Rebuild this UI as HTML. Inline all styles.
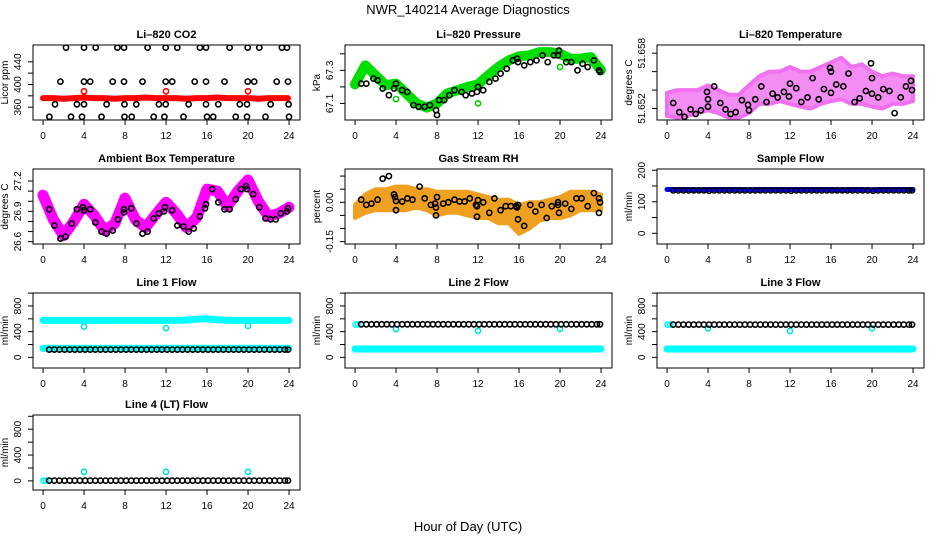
<!DOCTYPE html>
<html><head><meta charset="utf-8"><title>NWR_140214 Average Diagnostics</title>
<style>
html,body{margin:0;padding:0;background:#fff;}
svg{display:block;font-family:"Liberation Sans",Arial,sans-serif;}
</style></head>
<body>
<svg id="chart" width="936" height="540" viewBox="0 0 936 540">
<text x="468" y="14" text-anchor="middle" font-size="13">NWR_140214  Average Diagnostics</text>
<text x="468" y="531" text-anchor="middle" font-size="13">Hour of Day (UTC)</text>
</svg>
<script>
// ---------- shared data ----------
const hours = [0,1,2,3,4,5,6,7,8,9,10,11,12,13,14,15,16,17,18,19,20,21,22,23,24];
const xTicks = [0,4,8,12,16,20,24];
const flowT = [0.6,1.1,1.6,2.1,2.6,3.1,3.6,4.1,4.6,5.1,5.6,6.1,6.6,7.1,7.6,8.1,8.6,9.1,9.6,10.1,10.6,11.1,11.6,12.1,12.6,13.1,13.6,14.1,14.6,15.1,15.6,16.1,16.6,17.1,17.6,18.1,18.6,19.1,19.6,20.1,20.6,21.1,21.6,22.1,22.6,23.1,23.6,23.9];
const outT = [4,12,20];

// CO2
const co2Red = [376,376,375,376,377,376,376,375,376,376,377,376,376,376,375,376,376,377,376,376,376,375,376,376,376];
const co2RedOut = [388,388,388];
const co2BlackT = [2.24,4.0,5.14,7.25,7.9,10.2,11.97,13.1,15.3,15.9,18.2,19.97,21.1,23.3,23.8, 1.69,4.0,4.6,6.8,7.9,9.7,11.97,12.6,14.8,15.9,17.7,19.97,20.6,22.8,23.9, 1.17,3.3,4.0,6.2,7.95,9.1,11.3,11.97,14.2,15.9,17.1,19.2,19.9,22.2,23.96, 0.62,2.73,3.8,5.7,7.95,8.65,10.8,11.84,13.7,16.0,16.6,18.8,19.9,21.7,24.0];
const co2BlackV = [465,465,465,465,465,465,465,465,465,465,465,465,465,465,465, 405,405,405,405,405,405,405,405,405,405,405,405,405,405,405, 365,365,365,365,365,365,365,365,365,365,365,365,365,365,365, 343,343,343,343,343,343,343,343,343,343,343,343,343,343,343];

// Pressure
const presGreen = [67.215,67.33,67.27,67.21,67.22,67.16,67.10,67.075,67.10,67.16,67.18,67.20,67.215,67.27,67.32,67.36,67.385,67.39,67.41,67.41,67.40,67.37,67.37,67.38,67.30];
const presGreenOut = [67.126,67.10,67.32];
const presBlackT = [0.6,1.1,1.8,2.2,2.7,3.3,3.8,4.0,4.6,5.1,5.7,6.2,6.8,7.3,7.9,8.0,8.2,8.7,9.2,9.7,10.4,10.8,11.4,11.9,12.0,12.5,13.1,13.7,14.2,14.8,15.4,15.8,15.9,16.5,17.1,17.7,18.3,18.8,19.4,19.8,19.9,20.6,21.1,21.7,22.2,22.7,23.3,23.8,23.9];
const presBlackV = [67.22,67.22,67.25,67.24,67.19,67.15,67.19,67.22,67.18,67.17,67.09,67.08,67.08,67.09,67.06,67.03,67.12,67.12,67.15,67.18,67.17,67.15,67.16,67.17,67.20,67.18,67.23,67.25,67.28,67.31,67.36,67.37,67.35,67.33,67.35,67.36,67.39,67.35,67.39,67.39,67.42,67.35,67.35,67.30,67.34,67.32,67.36,67.30,67.29];

// Li-820 temperature
const tempHi = [51.6537,51.6540,51.6540,51.6540,51.6545,51.6540,51.6535,51.6535,51.6545,51.6555,51.6560,51.6560,51.6565,51.6560,51.6560,51.6565,51.6570,51.6575,51.6565,51.6568,51.6560,51.6555,51.6558,51.6555,51.6555];
const tempLo = [51.6512,51.6510,51.6512,51.6515,51.6518,51.6515,51.6510,51.6510,51.6515,51.6525,51.6525,51.6528,51.6525,51.6522,51.6520,51.6525,51.6528,51.6530,51.6525,51.6525,51.6522,51.6520,51.6525,51.6525,51.6528];
const tempBlackT = [0.6,1.2,1.7,2.3,2.8,3.3,3.9,4.0,4.0,4.6,5.2,5.7,6.2,6.7,7.3,7.9,8.0,8.6,9.2,9.7,10.3,10.8,11.4,11.9,12.0,12.6,13.1,13.7,14.2,14.8,15.3,15.9,16.0,16.0,16.5,17.2,17.7,18.3,18.8,19.4,19.9,20.0,20.0,20.6,21.1,21.7,22.2,22.8,23.3,23.8,23.9];
const tempBlackV = [51.6526,51.6516,51.6511,51.6519,51.6514,51.6518,51.6538,51.6530,51.6522,51.6544,51.6526,51.6519,51.6514,51.6516,51.6529,51.6524,51.6518,51.6530,51.6544,51.6527,51.6536,51.6532,51.6538,51.6533,51.6547,51.6542,51.6527,51.6532,51.6553,51.6530,51.6541,51.6564,51.6560,51.6537,51.6546,51.6544,51.6558,51.6527,51.6531,51.6539,51.6569,51.6553,51.6536,51.6532,51.6541,51.6539,51.6515,51.6532,51.6544,51.6550,51.6540];

// Ambient box temperature
const ambMag = [27.06,26.82,26.66,26.80,26.97,26.86,26.71,26.78,27.03,26.82,26.74,26.87,26.99,26.88,26.74,26.84,27.12,27.10,26.95,27.10,27.21,27.00,26.85,26.88,26.94];
const ambBlackT = [0.6,1.1,1.7,2.2,2.8,3.3,3.9,4.0,4.6,5.1,5.7,6.2,6.8,7.3,7.9,7.9,8.6,9.1,9.7,10.2,10.8,11.3,11.8,11.9,12.6,13.1,13.7,14.2,14.7,15.3,15.8,15.9,16.5,17.1,17.7,18.2,18.8,19.3,19.8,19.9,20.5,21.1,21.7,22.2,22.7,23.2,23.8,23.9];
const ambBlackV = [26.92,26.76,26.63,26.65,26.78,26.92,26.94,26.91,26.92,26.79,26.70,26.68,26.71,26.82,26.92,26.89,26.93,26.78,26.68,26.70,26.83,26.88,26.90,26.94,26.91,26.76,26.75,26.70,26.73,26.85,26.93,26.97,27.12,26.99,26.92,26.92,27.02,27.12,27.15,27.12,27.07,26.94,26.83,26.82,26.82,26.88,26.90,26.93];

// Gas stream RH
const rhHi = [-0.01,0.03,0.05,0.05,0.06,0.06,0.05,0.05,0.04,0.04,0.04,0.04,0.03,0.02,0.01,0.01,-0.01,0.0,0.0,0.01,0.02,0.04,0.04,0.04,0.03];
const rhLo = [-0.06,-0.04,-0.03,-0.03,-0.03,-0.03,-0.02,-0.03,-0.05,-0.04,-0.04,-0.05,-0.06,-0.06,-0.08,-0.08,-0.12,-0.10,-0.07,-0.06,-0.06,-0.05,-0.03,-0.03,-0.03];
const rhBlackT = [0.6,1.1,1.6,2.2,2.7,3.3,3.8,3.9,4.0,4.0,4.6,5.1,5.6,6.3,6.8,7.4,7.8,7.9,7.9,8.0,8.6,9.1,9.7,10.2,10.7,11.2,11.8,11.9,11.9,12.0,12.5,13.1,13.6,14.2,14.7,15.2,15.7,15.8,15.9,15.9,16.5,17.1,17.6,18.2,18.7,19.2,19.8,19.8,19.9,20.5,21.1,21.6,22.1,22.7,23.3,23.8,23.8,23.9];
const rhBlackV = [0.01,-0.01,-0.005,0.01,0.09,0.10,0.03,0.02,-0.03,0.005,0.003,0.015,0.01,0.06,0.015,-0.01,-0.005,-0.02,-0.05,0.02,-0.005,0.0,0.01,0.003,0.003,0.015,-0.01,-0.015,-0.055,0.008,0.0,-0.04,0.015,-0.03,-0.015,-0.015,-0.015,-0.02,-0.01,-0.065,-0.09,-0.01,-0.035,-0.01,-0.06,-0.015,0.0,-0.01,-0.04,-0.005,-0.025,0.015,0.015,-0.015,0.035,0.015,-0.04,0.0];

// Sample flow
const sampleBlue = [139,139,139,138,139,139,139,139,138,139,139,139,139,139,139,139,139,138,139,139,138,139,139,139,139];
const sampleBlack = [136,136,136,136,136,136,136,135,136,136,136,136,136,136,136,136,136,136,136,136,136,136,136,135,136,136,136,136,136,136,136,136,136,136,136,136,136,136,136,135,136,136,136,136,136,136,136,136];

// Line flows
const line1Hi = [575,575,575,575,575,575,575,575,575,575,575,575,575,575,580,595,600,585,578,575,575,575,575,575,575];
const line1Lo = [140,140,140,140,140,140,140,140,140,140,140,140,140,140,140,140,140,140,140,140,140,140,140,140,140];
const line1Out = [480,455,490];
const line1Black = [120,120,120,120,120,120,120,120,120,120,120,120,120,120,120,120,120,120,120,120,120,120,120,120,120,120,120,120,120,120,120,120,120,120,120,120,120,120,120,120,120,120,120,120,120,120,120,120];
const line2Lo = [130,130,130,130,130,130,130,130,130,130,130,130,130,130,130,130,130,130,130,130,130,130,130,130,130];
const line2Out = [440,415,445];
const line2Black = [515,515,515,515,515,515,515,515,515,515,515,515,515,515,515,515,515,515,515,515,515,515,515,515,515,515,515,515,515,515,515,515,515,515,515,515,515,515,515,515,515,515,515,515,515,515,515,515];
const line3Lo = [130,130,130,130,130,130,130,130,130,130,130,130,130,130,130,130,130,130,130,130,130,130,130,130,130];
const line3Out = [450,410,450];
const line3Black = [510,510,510,510,510,510,510,510,510,510,510,510,510,510,510,510,510,510,510,510,510,510,510,510,510,510,510,510,510,510,510,510,510,510,510,510,510,510,510,510,510,510,510,510,510,510,510,510];
const startT = [0.05,0.3];
const line2Start = [510,515];
const line3Start = [510,512];
const line4Start = [5,5];
const line4Out = [140,140,140];
const line4Black = [5,5,5,5,5,5,5,5,5,5,5,5,5,5,5,5,5,5,5,5,5,5,5,5,5,5,5,5,5,5,5,5,5,5,5,5,5,5,5,5,5,5,5,5,5,5,5,5];

// ---------- drawing ----------
const NS = "http://www.w3.org/2000/svg";
const svg = document.getElementById("chart");
const COLS = [33,345,657], ROWS = [45,169,293,415], W = 267, H = 75;
const X0 = -0.98, X1 = 25.07;

function mk(tag, attrs, parent){
  const e = document.createElementNS(NS, tag);
  for (const k in attrs) e.setAttribute(k, attrs[k]);
  parent.appendChild(e);
  return e;
}

function panel(name, col, row, ymin, ymax, yTicks, yLabels, title, ylab){
  const left = COLS[col], top = ROWS[row];
  const g = mk("g", {}, svg);
  
  
  const sx = h => left + (h - X0) / (X1 - X0) * W;
  const sy = v => top + H - (v - ymin) / (ymax - ymin) * H;
  const t = mk("text", {x: left + W/2, y: top - 7, "text-anchor": "middle", "font-size": 11, "font-weight": "bold"}, g);
  t.textContent = title;
  
  
  const yt = mk("text", {x: 0, y: 0, "text-anchor": "middle", "font-size": 10, transform: `translate(${left-25},${top+H/2}) rotate(-90)`}, g);
  yt.textContent = ylab;
  
  
  const plot = mk("g", {}, g);
  
  
  const clipId = "clip" + col + row;
  const cp = mk("clipPath", {id: clipId}, g);
  mk("rect", {x: left, y: top, width: W, height: H}, cp);
  plot.setAttribute("clip-path", `url(#${clipId})`);
  const ax = mk("g", {stroke: "#000", "stroke-width": 1, fill: "none"}, g);
  
  
  mk("rect", {x: left, y: top, width: W, height: H}, ax);
  mk("line", {x1: sx(xTicks[0]), x2: sx(xTicks[xTicks.length-1]), y1: top+H, y2: top+H}, ax);
  xTicks.forEach(v => {
    mk("line", {x1: sx(v), x2: sx(v), y1: top+H, y2: top+H+5}, ax);
    const l = mk("text", {x: sx(v), y: top+H+19, "text-anchor": "middle", "font-size": 10, fill: "#000", stroke: "none"}, g);
    l.textContent = v;
    
    
  });
  mk("line", {x1: left, x2: left, y1: sy(yTicks[0]), y2: sy(yTicks[yTicks.length-1])}, ax);
  yTicks.forEach((v, i) => {
    mk("line", {x1: left-5, x2: left, y1: sy(v), y2: sy(v)}, ax);
    if (yLabels[i] !== "") {
      const l = mk("text", {x: 0, y: 0, "text-anchor": "middle", "font-size": 10, transform: `translate(${left-12},${sy(v)}) rotate(-90)`}, g);
      l.textContent = yLabels[i];
      
      
    }
  });
  return {sx, sy, plot};
}

function band(p, ts, vs, color, width, name){
  const pts = ts.map((h, i) => p.sx(h).toFixed(1) + "," + p.sy(vs[i]).toFixed(1)).join(" ");
  const e = mk("polyline", {points: pts, fill: "none", stroke: color, "stroke-width": width, "stroke-linejoin": "round", "stroke-linecap": "round"}, p.plot);
  
  
}
function area(p, ts, hi, lo, color, op, name){
  const up = ts.map((h, i) => p.sx(h).toFixed(1) + "," + p.sy(hi[i]).toFixed(1));
  const dn = ts.map((h, i) => p.sx(h).toFixed(1) + "," + p.sy(lo[i]).toFixed(1)).reverse();
  const e = mk("polygon", {points: up.concat(dn).join(" "), fill: color, "fill-opacity": op, stroke: color, "stroke-width": 4, "stroke-linejoin": "round"}, p.plot);
  
  
}
function pts(p, ts, vs, color, name){
  const g = mk("g", {fill: "none", stroke: color, "stroke-width": 1.6}, p.plot);
  
  
  ts.forEach((h, i) => {
    const c = mk("circle", {cx: p.sx(h).toFixed(1), cy: p.sy(vs[i]).toFixed(1), r: 2.6}, g);
    
    
  });
}

const flowTicks = [0,200,400,600,800,1000];
const flowLabels = ["0","","400","","800",""];

// Row 1
let p = panel("co2-panel", 0, 0, 337.4, 469.6, [360,380,400,420,440], ["360","","400","","440"], "Li–820 CO2", "Licor ppm");
band(p, hours.slice(0,24).concat([23.9]), co2Red, "#ff0000", 6, "co2-red-series");
pts(p, outT, co2RedOut, "#ff0000", "co2-red-outliers");
pts(p, co2BlackT, co2BlackV, "#000", "co2-black-series");

p = panel("pressure-panel", 1, 0, 67.0, 67.453, [67.1,67.2,67.3,67.4], ["67.1","","67.3",""], "Li–820 Pressure", "kPa");
band(p, hours, presGreen, "#00dd00", 10, "pressure-green-series");
pts(p, outT, presGreenOut, "#00cc00", "pressure-green-outliers");
pts(p, presBlackT, presBlackV, "#000", "pressure-black-series");

p = panel("li820-temp-panel", 2, 0, 51.65075, 51.65889, [51.652,51.654,51.656,51.658], ["51.652","","","51.658"], "Li–820 Temperature", "degrees C");
area(p, hours, tempHi, tempLo, "#f070f0", 0.8, "temp-magenta-series");
pts(p, tempBlackT, tempBlackV, "#000", "temp-black-series");

// Row 2
p = panel("ambient-temp-panel", 0, 1, 26.577, 27.319, [26.6,26.7,26.8,26.9,27.0,27.1,27.2], ["26.6","","","26.9","","","27.2"], "Ambient Box Temperature", "degrees C");
band(p, hours, ambMag, "#ff00ff", 11, "ambient-magenta-series");
pts(p, ambBlackT, ambBlackV, "#000", "ambient-black-series");

p = panel("rh-panel", 1, 1, -0.159, 0.127, [-0.15,-0.10,-0.05,0.00,0.05,0.10], ["-0.15","","","0.00","",""], "Gas Stream RH", "percent");
area(p, hours, rhHi, rhLo, "#f0a020", 1, "rh-orange-series");
pts(p, rhBlackT, rhBlackV, "#000", "rh-black-series");

p = panel("sample-flow-panel", 2, 1, -34, 204, [0,50,100,150,200], ["0","","100","","200"], "Sample Flow", "ml/min");
band(p, hours, sampleBlue, "#0000ff", 5, "sample-blue-series");
pts(p, flowT, sampleBlack, "#000", "sample-black-series");

// Row 3
p = panel("line1-flow-panel", 0, 2, -166, 1002, flowTicks, flowLabels, "Line 1 Flow", "ml/min");
band(p, hours, line1Hi, "#00ffff", 7, "line1-cyan-high");
band(p, hours, line1Lo, "#00ffff", 7, "line1-cyan-low");
pts(p, outT, line1Out, "#00e0e0", "line1-cyan-outliers");
pts(p, flowT, line1Black, "#000", "line1-black-series");

p = panel("line2-flow-panel", 1, 2, -166, 1002, flowTicks, flowLabels, "Line 2 Flow", "ml/min");
band(p, hours, line2Lo, "#00ffff", 7, "line2-cyan-low");
pts(p, startT, line2Start, "#00ffff", "line2-cyan-start");
pts(p, outT, line2Out, "#00e0e0", "line2-cyan-outliers");
pts(p, flowT, line2Black, "#000", "line2-black-series");

p = panel("line3-flow-panel", 2, 2, -166, 1002, flowTicks, flowLabels, "Line 3 Flow", "ml/min");
band(p, hours, line3Lo, "#00ffff", 7, "line3-cyan-low");
pts(p, startT, line3Start, "#00ffff", "line3-cyan-start");
pts(p, outT, line3Out, "#00e0e0", "line3-cyan-outliers");
pts(p, flowT, line3Black, "#000", "line3-black-series");

// Row 4
p = panel("line4-flow-panel", 0, 3, -141, 1020, flowTicks, flowLabels, "Line 4 (LT) Flow", "ml/min");
pts(p, startT, line4Start, "#00ffff", "line4-cyan-start");
pts(p, outT, line4Out, "#00e0e0", "line4-cyan-outliers");
pts(p, flowT, line4Black, "#000", "line4-black-series");
</script>
</body></html>
